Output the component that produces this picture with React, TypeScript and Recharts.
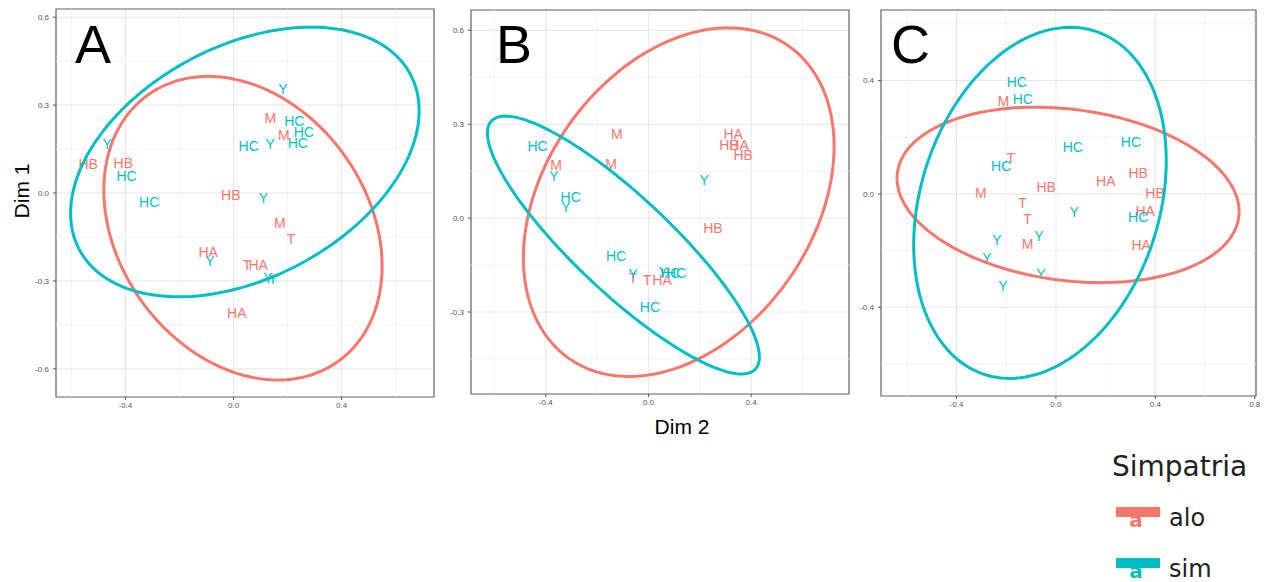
import React from 'react';
import {
  ScatterChart,
  Scatter,
  XAxis,
  YAxis,
  CartesianGrid,
  ReferenceLine,
  ReferenceArea,
} from 'recharts';

const RED = '#F8766D';
const TEAL = '#00BFC4';
const FONT = '"Liberation Sans", Arial, sans-serif';
const LEGEND_FONT = '"DejaVu Sans", "Liberation Sans", sans-serif';

// ---- Panel A ----
const aAloLabels = ['M', 'M', 'HB', 'HB', 'HB', 'M', 'T', 'HA', 'T', 'HA', 'HA'];
const aAloX = [0.136, 0.186, -0.538, -0.408, -0.01, 0.171, 0.213, -0.094, 0.05, 0.091, 0.012];
const aAloY = [0.257, 0.197, 0.1, 0.103, -0.005, -0.101, -0.158, -0.201, -0.246, -0.246, -0.408];
const aSimLabels = ['Y', 'HC', 'HC', 'HC', 'Y', 'HC', 'Y', 'HC', 'HC', 'Y', 'Y', 'Y', 'Y'];
const aSimX = [0.183, 0.225, 0.26, 0.238, 0.136, 0.056, -0.468, -0.396, -0.312, 0.111, -0.087, 0.128, 0.146];
const aSimY = [0.356, 0.245, 0.208, 0.172, 0.166, 0.159, 0.166, 0.057, -0.031, -0.016, -0.232, -0.29, -0.292];
// ellipse: centre x, centre y, x half-range, y half-range, cos(phase)
const aAloEllipse = [0.035, -0.12, 0.515, 0.518, -0.25];
const aSimEllipse = [0.042, 0.106, 0.645, 0.46, 0.38];

// ---- Panel B ----
const bAloLabels = ['M', 'M', 'M', 'HA', 'HB', 'HA', 'HB', 'HB', 'T', 'T', 'HA'];
const bAloX = [-0.123, -0.36, -0.145, 0.33, 0.314, 0.353, 0.369, 0.251, -0.06, -0.005, 0.053];
const bAloY = [0.27, 0.171, 0.174, 0.268, 0.233, 0.233, 0.201, -0.03, -0.192, -0.198, -0.198];
const bSimLabels = ['HC', 'Y', 'HC', 'Y', 'Y', 'HC', 'Y', 'Y', 'HC', 'HC', 'HC'];
const bSimX = [-0.432, -0.368, -0.303, -0.321, 0.217, -0.126, -0.06, 0.057, 0.085, 0.108, 0.006];
const bSimY = [0.231, 0.135, 0.066, 0.034, 0.121, -0.12, -0.179, -0.173, -0.176, -0.176, -0.283];
const bAloEllipse = [0.118, 0.051, 0.605, 0.557, 0.32];
const bSimEllipse = [-0.0975, -0.086, 0.5295, 0.412, -0.868];

// ---- Panel C ----
const cAloLabels = ['M', 'T', 'M', 'HB', 'T', 'T', 'M', 'HA', 'HB', 'HB', 'HA', 'HA'];
const cAloX = [-0.21, -0.181, -0.302, -0.039, -0.134, -0.114, -0.114, 0.201, 0.331, 0.399, 0.359, 0.343];
const cAloY = [0.329, 0.128, 0.005, 0.026, -0.031, -0.088, -0.178, 0.044, 0.074, 0.004, -0.06, -0.18];
const cSimLabels = ['HC', 'HC', 'HC', 'HC', 'HC', 'Y', 'HC', 'Y', 'Y', 'Y', 'Y', 'Y'];
const cSimX = [-0.157, -0.133, 0.068, 0.302, -0.22, 0.074, 0.331, -0.068, -0.237, -0.277, -0.06, -0.213];
const cSimY = [0.394, 0.335, 0.167, 0.185, 0.1, -0.062, -0.081, -0.147, -0.162, -0.225, -0.284, -0.324];
const cAloEllipse = [0.049, -0.0035, 0.688, 0.3095, -0.19];
const cSimEllipse = [-0.064, -0.0315, 0.508, 0.6195, 0.24];

// ---- Axes ----
const aXDomain = [-0.657, 0.742];
const aYDomain = [-0.696, 0.628];
const aXTicks = [-0.4, 0, 0.4];
const aYTicks = [-0.6, -0.3, 0, 0.3, 0.6];
const aXMinor = [-0.6, -0.2, 0.2, 0.6];
const aYMinor = [-0.45, -0.15, 0.15, 0.45];

const bXDomain = [-0.691, 0.781];
const bYDomain = [-0.562, 0.665];
const bXTicks = [-0.4, 0, 0.4];
const bYTicks = [-0.3, 0, 0.3, 0.6];
const bXMinor = [-0.6, -0.2, 0.2, 0.6];
const bYMinor = [-0.45, -0.15, 0.15, 0.45];

const cXDomain = [-0.7035, 0.805];
const cYDomain = [-0.713, 0.649];
const cXTicks = [-0.4, 0, 0.4, 0.8];
const cYTicks = [-0.4, 0, 0.4];
const cXMinor = [-0.6, -0.2, 0.2, 0.6];
const cYMinor = [-0.6, -0.2, 0.2, 0.6];

const legendTitle = 'Simpatria';
const legendGroups = ['alo', 'sim'];
const legendColors = [RED, TEAL];

type Pt = { x: number; y: number; label?: string };

const zipPoints = (labels: string[], xs: number[], ys: number[]): Pt[] =>
  labels.map((label, i) => ({ label, x: xs[i], y: ys[i] }));

// Outline of a confidence ellipse in data units
const ellipseOutline = (p: number[]): Pt[] => {
  const [cx, cy, a, b, c] = p;
  const phi = Math.acos(c);
  const n = 160;
  const out: Pt[] = [];
  for (let i = 0; i <= n; i++) {
    const t = (i / n) * 2 * Math.PI;
    out.push({ x: cx + a * Math.cos(t), y: cy + b * Math.cos(t - phi) });
  }
  return out;
};

const textMark = (color: string) => (props: any) => {
  if (props.cx == null || props.cy == null) return <g />;
  return (
    <text
      x={props.cx}
      y={props.cy}
      fill={color}
      fontSize={14}
      fontFamily={FONT}
      textAnchor="middle"
      dominantBaseline="central"
    >
      {props.payload.label}
    </text>
  );
};

const noMark = () => <g />;
const fmt = (v: number) => v.toFixed(1);

type PanelProps = {
  left: number;
  width: number;
  margin: { top: number; right: number; bottom: number; left: number };
  xDomain: number[];
  yDomain: number[];
  xTicks: number[];
  yTicks: number[];
  xMinor: number[];
  yMinor: number[];
  alo: Pt[];
  sim: Pt[];
  aloEllipse: number[];
  simEllipse: number[];
};

const Panel = (p: PanelProps) => (
  <div style={{ position: 'absolute', left: p.left, top: 0 }}>
    <ScatterChart width={p.width} height={420} margin={p.margin}>
      <CartesianGrid stroke="#e6e6e6" strokeWidth={1} />
      {p.xMinor.map((v) => (
        <ReferenceLine key={'vx' + v} x={v} stroke="#f0f0f0" strokeWidth={0.8} />
      ))}
      {p.yMinor.map((v) => (
        <ReferenceLine key={'hy' + v} y={v} stroke="#f0f0f0" strokeWidth={0.8} />
      ))}
      <XAxis
        type="number"
        dataKey="x"
        domain={p.xDomain}
        ticks={p.xTicks}
        allowDataOverflow
        tickFormatter={fmt}
        height={20}
        axisLine={false}
        tickLine={{ stroke: '#555' }}
        tickSize={3}
        tickMargin={2}
        tick={{ fontSize: 8, fill: '#555', fontFamily: FONT }}
      />
      <YAxis
        type="number"
        dataKey="y"
        domain={p.yDomain}
        ticks={p.yTicks}
        allowDataOverflow
        tickFormatter={fmt}
        width={30}
        axisLine={false}
        tickLine={{ stroke: '#555' }}
        tickSize={3}
        tickMargin={4}
        tick={{ fontSize: 8, fill: '#555', fontFamily: FONT }}
      />
      <ReferenceArea
        x1={p.xDomain[0]}
        x2={p.xDomain[1]}
        y1={p.yDomain[0]}
        y2={p.yDomain[1]}
        fill="none"
        stroke="#6a6a6a"
        strokeWidth={1.2}
      />
      <Scatter data={p.alo} shape={textMark(RED)} isAnimationActive={false} />
      <Scatter data={p.sim} shape={textMark(TEAL)} isAnimationActive={false} />
      <Scatter
        data={ellipseOutline(p.aloEllipse)}
        shape={noMark}
        line={{ stroke: RED, strokeWidth: 3 }}
        isAnimationActive={false}
      />
      <Scatter
        data={ellipseOutline(p.simEllipse)}
        shape={noMark}
        line={{ stroke: TEAL, strokeWidth: 3 }}
        isAnimationActive={false}
      />
    </ScatterChart>
  </div>
);

export default function App() {
  return (
    <div
      style={{
        position: 'absolute',
        left: 0,
        top: 0,
        width: 1265,
        height: 582,
        background: '#fff',
        overflow: 'hidden',
        fontFamily: FONT,
      }}
    >
      <Panel
        left={0}
        width={440}
        margin={{ top: 9, right: 6, bottom: 3, left: 26 }}
        xDomain={aXDomain}
        yDomain={aYDomain}
        xTicks={aXTicks}
        yTicks={aYTicks}
        xMinor={aXMinor}
        yMinor={aYMinor}
        alo={zipPoints(aAloLabels, aAloX, aAloY)}
        sim={zipPoints(aSimLabels, aSimX, aSimY)}
        aloEllipse={aAloEllipse}
        simEllipse={aSimEllipse}
      />
      <Panel
        left={441}
        width={415}
        margin={{ top: 10, right: 7, bottom: 6, left: 0 }}
        xDomain={bXDomain}
        yDomain={bYDomain}
        xTicks={bXTicks}
        yTicks={bYTicks}
        xMinor={bXMinor}
        yMinor={bYMinor}
        alo={zipPoints(bAloLabels, bAloX, bAloY)}
        sim={zipPoints(bSimLabels, bSimX, bSimY)}
        aloEllipse={bAloEllipse}
        simEllipse={bSimEllipse}
      />
      <Panel
        left={850}
        width={415}
        margin={{ top: 10, right: 9, bottom: 4, left: 1 }}
        xDomain={cXDomain}
        yDomain={cYDomain}
        xTicks={cXTicks}
        yTicks={cYTicks}
        xMinor={cXMinor}
        yMinor={cYMinor}
        alo={zipPoints(cAloLabels, cAloX, cAloY)}
        sim={zipPoints(cSimLabels, cSimX, cSimY)}
        aloEllipse={cAloEllipse}
        simEllipse={cSimEllipse}
      />
      <svg
        width={1265}
        height={582}
        style={{ position: 'absolute', left: 0, top: 0, pointerEvents: 'none' }}
      >
        <g fontFamily={FONT} fill="#000">
          <text x={75} y={63} fontSize={54}>A</text>
          <text x={496} y={63} fontSize={54}>B</text>
          <text x={891} y={63} fontSize={54}>C</text>
          <text
            x={0}
            y={0}
            fontSize={21}
            textAnchor="middle"
            transform="translate(29 191) rotate(-90)"
          >
            Dim 1
          </text>
          <text x={682} y={434} fontSize={21} textAnchor="middle">Dim 2</text>
        </g>
        <g fontFamily={LEGEND_FONT}>
          <text x={1112} y={476} fontSize={28} fill="#222">
            {legendTitle}
          </text>
          {legendGroups.map((g, i) => {
            const top = 507 + i * 51;
            return (
              <g key={g}>
                <text
                  x={1136}
                  y={top + 20}
                  fontSize={20}
                  fontWeight="bold"
                  fill={legendColors[i]}
                  textAnchor="middle"
                >
                  a
                </text>
                <rect x={1116} y={top} width={44} height={10} fill={legendColors[i]} />
                <text x={1169} y={top + 19} fontSize={24} fill="#222">
                  {g}
                </text>
              </g>
            );
          })}
        </g>
      </svg>
    </div>
  );
}
